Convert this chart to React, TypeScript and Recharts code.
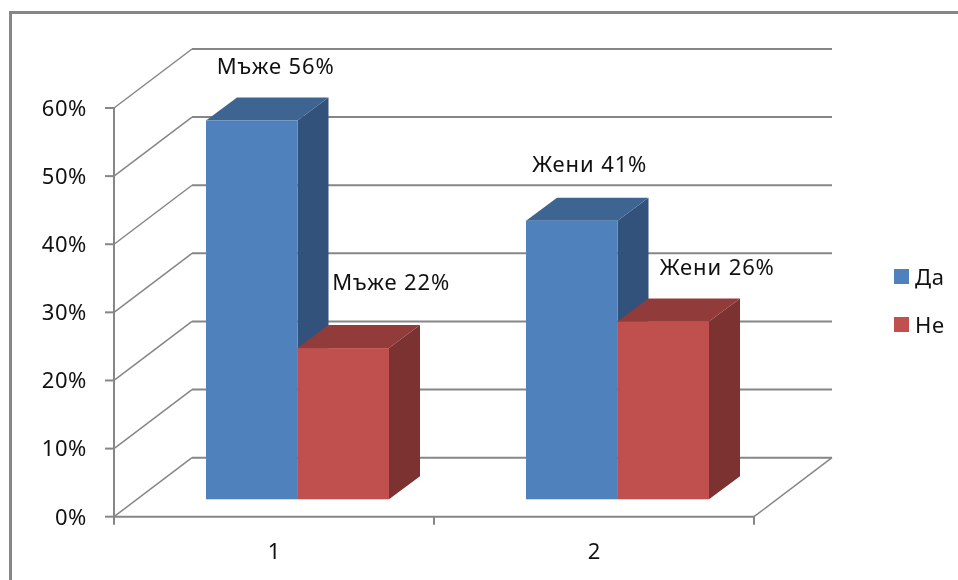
import { Bar, BarChart, CartesianGrid, LabelList, Legend, XAxis, YAxis } from "recharts";

const categories = ["1", "2"];
const yesValues = [55.6, 40.9];
const noValues = [22.2, 26.1];
const yesLabels = ["Мъже 56%", "Жени 41%"];
const noLabels = ["Мъже 22%", "Жени 26%"];
const yTicks = [0, 10, 20, 30, 40, 50, 60];

const rows = categories.map((name, i) => ({ name, yes: yesValues[i], no: noValues[i] }));

const FONT = "'Noto Sans', sans-serif";
const TEXT_SIZE = 22;
const TEXT_SPACING = 0.6;
const GRID = "#868686";
const BACK_DX = 78;
const BACK_DY = -59;
// bars stand part way into the floor, and have a little depth of their own
const BAR_DX = 23;
const BAR_DY = -17.4;
const DEPTH_DX = 31;
const DEPTH_DY = -23;
const BAND = 320;

// label offsets from the bar's front top centre
const yesOffsets = [[24, -56], [18, -58]];
const noOffsets = [[48, -67], [54, -56]];

function Bar3D(props: any, top: string, side: string) {
  const { x, y, width, height, fill } = props;
  const l = x + BAR_DX;
  const r = l + width;
  const t = y + BAR_DY;
  const b = t + height;
  return (
    <g>
      <polygon points={`${r},${t} ${r + DEPTH_DX},${t + DEPTH_DY} ${r + DEPTH_DX},${b + DEPTH_DY} ${r},${b}`} fill={side} />
      <polygon points={`${l},${t} ${l + DEPTH_DX},${t + DEPTH_DY} ${r + DEPTH_DX},${t + DEPTH_DY} ${r},${t}`} fill={top} />
      <rect x={l} y={t} width={width} height={height} fill={fill} />
    </g>
  );
}

function barLabel(texts: string[], offsets: number[][]) {
  return (props: any) => {
    const { x, y, width, index } = props;
    return (
      <text
        x={x + BAR_DX + width / 2 + offsets[index][0]}
        y={y + BAR_DY + offsets[index][1]}
        textAnchor="middle"
        dominantBaseline="central"
        fontFamily={FONT}
        fontSize={TEXT_SIZE}
        letterSpacing={0.9}
        fill="#111"
      >
        {texts[index]}
      </text>
    );
  };
}

function gridLine(props: any) {
  const { x1, x2, y1, index } = props;
  const backY = y1 + BACK_DY;
  return (
    <g key={index}>
      <polyline points={`${x1},${y1} ${x1 + BACK_DX},${backY}`} fill="none" stroke={GRID} strokeWidth={1.5} />
      <line x1={x1 + BACK_DX} y1={backY} x2={x2 + BACK_DX} y2={backY} stroke={GRID} strokeWidth={2} />
      {y1 > 500 && <line x1={x2} y1={y1} x2={x2 + BACK_DX} y2={backY} stroke={GRID} strokeWidth={1.5} />}
    </g>
  );
}

function XTick(props: any) {
  const { x, y, payload, index } = props;
  return (
    <g>
      <line x1={x - BAND / 2} y1={y - 8} x2={x - BAND / 2} y2={y} stroke={GRID} strokeWidth={2} />
      {index === categories.length - 1 && (
        <line x1={x + BAND / 2} y1={y - 8} x2={x + BAND / 2} y2={y} stroke={GRID} strokeWidth={2} />
      )}
      <text x={x} y={y + 25} textAnchor="middle" dominantBaseline="central" fontFamily={FONT} fontSize={TEXT_SIZE} fill="#111">
        {payload.value}
      </text>
    </g>
  );
}

function LegendBox({ payload }: any) {
  return (
    <div style={{ fontFamily: FONT, fontSize: TEXT_SIZE, letterSpacing: TEXT_SPACING, color: "#111" }}>
      {(payload || []).map((item: any) => (
        <div key={item.value} style={{ display: "flex", alignItems: "center", height: 48 }}>
          <span style={{ width: 15, height: 15, background: item.color, marginRight: 6 }} />
          <span>{item.value}</span>
        </div>
      ))}
    </div>
  );
}

export default function App() {
  return (
    <div style={{ position: "absolute", left: 0, top: 0, width: 958, height: 580, background: "#fff", overflow: "hidden", filter: "blur(0.35px)" }}>
      <div
        style={{
          position: "absolute",
          left: 9,
          top: 11,
          width: 960,
          height: 600,
          borderLeft: `3px solid ${GRID}`,
          borderTop: `3px solid ${GRID}`,
        }}
      />
      <BarChart
        width={958}
        height={580}
        data={rows}
        margin={{ top: 108, right: 140, bottom: 0, left: 0 }}
        barSize={91.5}
        barGap={0}
        style={{ position: "absolute", left: 0, top: 0 }}
      >
        <CartesianGrid vertical={false} horizontal={gridLine} />
        <XAxis
          dataKey="name"
          height={63.3}
          axisLine={{ stroke: GRID, strokeWidth: 2 }}
          tickLine={false}
          tick={XTick}
        />
        <YAxis
          width={114}
          domain={[0, 60]}
          ticks={yTicks}
          tickFormatter={(v: number) => `${v}%`}
          axisLine={{ stroke: GRID, strokeWidth: 2 }}
          tickLine={{ stroke: GRID, strokeWidth: 2 }}
          tickSize={9}
          tickMargin={18}
          interval={0}
          tick={{ fontFamily: FONT, fontSize: TEXT_SIZE, letterSpacing: TEXT_SPACING, fill: "#111" }}
        />
        <Legend
          layout="vertical"
          align="right"
          verticalAlign="top"
          wrapperStyle={{ left: 894, top: 252, width: 64 }}
          content={LegendBox}
        />
        <Bar
          dataKey="yes"
          name="Да"
          fill="#4F81BD"
          isAnimationActive={false}
          shape={(p: any) => Bar3D(p, "#3E6491", "#32527C")}
        >
          <LabelList dataKey="yes" content={barLabel(yesLabels, yesOffsets)} />
        </Bar>
        <Bar
          dataKey="no"
          name="Не"
          fill="#C0504D"
          isAnimationActive={false}
          shape={(p: any) => Bar3D(p, "#913C3A", "#7B3230")}
        >
          <LabelList dataKey="no" content={barLabel(noLabels, noOffsets)} />
        </Bar>
      </BarChart>
    </div>
  );
}
